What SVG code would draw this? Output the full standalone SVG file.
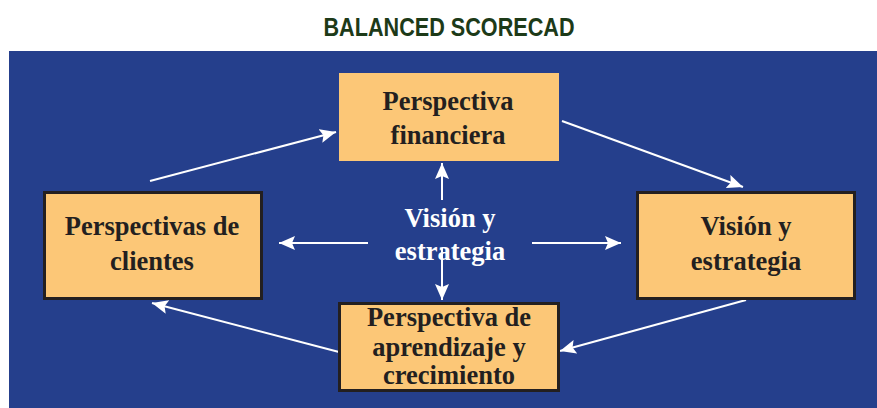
<svg xmlns="http://www.w3.org/2000/svg" width="877" height="408" viewBox="0 0 877 408">
<style>
.box{fill:#fcc777;stroke:#231f20;stroke-width:3}
.lbl{font-family:"Liberation Serif","Times New Roman",serif;font-weight:bold;font-size:26.5px;fill:#231f20;text-anchor:middle}
.ctr{font-family:"Liberation Serif","Times New Roman",serif;font-weight:bold;font-size:26.5px;fill:#ffffff;text-anchor:middle}
.conn{stroke:#ffffff;stroke-width:2;fill:none;marker-end:url(#ah)}
</style>
<defs>
<marker id="ah" markerUnits="userSpaceOnUse" markerWidth="18" markerHeight="14" refX="16" refY="7" orient="auto">
<path d="M0,0 L16,7 L0,14 L3,7 Z" fill="#ffffff"/>
</marker>
</defs>
<rect x="0" y="0" width="877" height="408" fill="#ffffff"/>
<text x="449" y="36" font-family="'Liberation Sans',Arial,sans-serif" font-weight="bold" font-size="25" fill="#1d3a18" text-anchor="middle" textLength="251" lengthAdjust="spacingAndGlyphs">BALANCED SCORECAD</text>
<rect id="background" x="9" y="51" width="868" height="357" fill="#253f8c"/>
<g id="connectors">
<line class="conn" x1="150" y1="181" x2="336" y2="132"/>
<line class="conn" x1="562" y1="121" x2="743" y2="187"/>
<line class="conn" x1="746" y1="300" x2="560" y2="351"/>
<line class="conn" x1="339" y1="352" x2="152" y2="303"/>
<line class="conn" x1="442" y1="200" x2="442" y2="163"/>
<line class="conn" x1="442" y1="248" x2="442" y2="300"/>
<line class="conn" x1="368" y1="243" x2="279" y2="243"/>
<line class="conn" x1="532" y1="243" x2="621" y2="243"/>
</g>
<g id="node-financiera">
<rect x="339" y="73" width="220" height="88" fill="#fcc777"/>
<text class="lbl" x="448" y="110">Perspectiva</text>
<text class="lbl" x="448" y="144">financiera</text>
</g>
<g id="node-clientes">
<rect class="box" x="44.5" y="192.5" width="217" height="106"/>
<text class="lbl" x="152" y="235">Perspectivas de</text>
<text class="lbl" x="152" y="270">clientes</text>
</g>
<g id="node-vision">
<rect class="box" x="637.5" y="192.5" width="217" height="106"/>
<text class="lbl" x="746" y="235">Visión y</text>
<text class="lbl" x="746" y="270">estrategia</text>
</g>
<g id="node-aprendizaje">
<rect class="box" x="339.5" y="303.5" width="219" height="87"/>
<text class="lbl" x="449" y="326">Perspectiva de</text>
<text class="lbl" x="449" y="356">aprendizaje y</text>
<text class="lbl" x="449" y="384">crecimiento</text>
</g>
<g id="node-centro">
<text class="ctr" x="450" y="227">Visión y</text>
<text class="ctr" x="450" y="260">estrategia</text>
</g>
</svg>
